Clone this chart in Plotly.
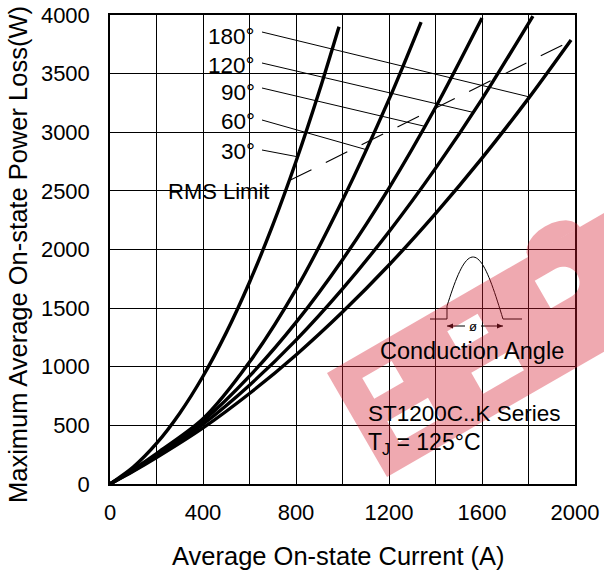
import math
import plotly.graph_objects as go

# ---------------- data ----------------
I_30 = [0, 100, 200, 300, 400, 500, 600, 700, 800, 900, 985]
P_30 = [0, 145, 346, 604, 919, 1291, 1721, 2207, 2750, 3349, 3900]

I_60 = [0, 100, 200, 400, 600, 800, 1000, 1200, 1338]
P_60 = [0, 125, 260, 556, 1040, 1660, 2420, 3280, 3940]

I_90 = [0, 100, 200, 400, 600, 800, 1000, 1200, 1400, 1600]
P_90 = [0, 118, 245, 537, 920, 1378, 1913, 2524, 3211, 3974]

I_120 = [0, 100, 200, 400, 600, 800, 1000, 1200, 1400, 1600, 1819]
P_120 = [0, 112, 235, 510, 843, 1227, 1664, 2152, 2692, 3283, 3991]

I_180 = [0, 100, 200, 400, 600, 800, 1000, 1200, 1400, 1600, 1800, 1983]
P_180 = [0, 108, 225, 478, 772, 1101, 1467, 1868, 2306, 2779, 3289, 3787]

I_rms = [774, 1978]
P_rms = [2590, 3775]

angle_labels = ["180°", "120°", "90°", "60°", "30°"]
# points on the curves where the label leaders end
leader_I = [1806, 1561, 1355, 1105, 809]
leader_P = [3300, 3170, 3050, 2850, 2790]

x_tick_vals = [0, 400, 800, 1200, 1600, 2000]
x_tick_text = ["0", "400", "800", "1200", "1600", "2000"]
y_tick_vals = [0, 500, 1000, 1500, 2000, 2500, 3000, 3500, 4000]
y_tick_text = ["0", "500", "1000", "1500", "2000", "2500", "3000", "3500", "4000"]

# ---------------- geometry helpers ----------------
W, H = 604, 576
ML, MR, MT, MB = 110, 29, 15, 92
PW, PH = W - ML - MR, H - MT - MB
FONT = "Liberation Sans, Arial, sans-serif"


def paper(px, py):
    return ((px - ML) / PW, (MT + PH - py) / PH)


def path_from_px(pts, close=True):
    s = ""
    for i, (x, y) in enumerate(pts):
        u, v = paper(x, y)
        s += ("M" if i == 0 else "L") + f"{u:.5f},{v:.5f} "
    if close:
        s += "Z"
    return s


fig = go.Figure()

curves = [(I_30, P_30), (I_60, P_60), (I_90, P_90), (I_120, P_120), (I_180, P_180)]
for xs, ys in curves:
    fig.add_trace(go.Scatter(x=xs, y=ys, mode="lines",
                             line=dict(color="black", width=3.4, shape="spline", smoothing=0.8),
                             hoverinfo="skip", showlegend=False))

fig.add_trace(go.Scatter(x=I_rms, y=P_rms, mode="lines",
                         line=dict(color="black", width=1.1, dash="24px,16px"),
                         hoverinfo="skip", showlegend=False))

shapes = []
# white label boxes (above grid, below traces)
for (x0, y0, x1, y1) in [(208, 15, 258, 166), (165, 176, 272, 207),
                         (427, 251, 524, 333), (372, 336, 574, 364),
                         (364, 398, 562, 427), (364, 427, 489, 458)]:
    a0, b0 = paper(x0, y1)
    a1, b1 = paper(x1, y0)
    shapes.append(dict(type="rect", xref="paper", yref="paper", x0=a0, y0=b0, x1=a1, y1=b1,
                       fillcolor="white", line=dict(width=0), layer="between"))

# leader lines from labels to curves
label_y_px = [37, 65, 92, 122, 151]
start_y_px = [32, 63, 88, 120, 150]
for k in range(5):
    sx, sy = paper(262, start_y_px[k])
    shapes.append(dict(type="line", xref="paper", yref="paper", x0=sx, y0=sy,
                       x1=(leader_I[k] / 2000), y1=(leader_P[k] / 4000),
                       line=dict(color="black", width=1), layer="above"))

# conduction-angle symbol
base_y = 319
foot0, foot1, amp = 443, 503, 62
cut_x = 447


def wave_y(x):
    return base_y - amp * math.sin(math.pi * (x - foot0) / (foot1 - foot0))


wpts = [(cut_x, base_y)]
n = 40
for i in range(n + 1):
    x = cut_x + (foot1 - cut_x) * i / n
    wpts.append((x, wave_y(x)))
shapes.append(dict(type="path", xref="paper", yref="paper", path=path_from_px(wpts, close=False),
                   line=dict(color="black", width=1), layer="above"))
for (xa, xb) in [(430, cut_x), (foot1, 522)]:
    a, b = paper(xa, base_y)
    c, d = paper(xb, base_y)
    shapes.append(dict(type="line", xref="paper", yref="paper", x0=a, y0=b, x1=c, y1=d,
                       line=dict(color="black", width=1), layer="above"))
arr_y = 326
for (xa, xb) in [(cut_x, 465), (481, foot1)]:
    a, b = paper(xa, arr_y)
    c, d = paper(xb, arr_y)
    shapes.append(dict(type="line", xref="paper", yref="paper", x0=a, y0=b, x1=c, y1=d,
                       line=dict(color="black", width=1), layer="above"))
shapes.append(dict(type="path", xref="paper", yref="paper",
                   path=path_from_px([(cut_x, arr_y), (cut_x + 6, arr_y - 2.5), (cut_x + 6, arr_y + 2.5)]),
                   fillcolor="black", line=dict(width=0), layer="above"))
shapes.append(dict(type="path", xref="paper", yref="paper",
                   path=path_from_px([(foot1, arr_y), (foot1 - 6, arr_y - 2.5), (foot1 - 6, arr_y + 2.5)]),
                   fillcolor="black", line=dict(width=0), layer="above"))

# watermark (rotated logo band with a few cut-outs)
AX, AY = 327, 373
ca, sa = math.cos(math.radians(30)), math.sin(math.radians(30))


def band(u, v):
    return (AX + ca * u + sa * v, AY - sa * u + ca * v)


def brect(u0, u1, v0, v1, rev=False):
    pts = [band(u0, v0), band(u1, v0), band(u1, v1), band(u0, v1)]
    if rev:
        pts = pts[::-1]
    return path_from_px(pts)


wm = brect(0, 420, 0, 120) + " "
wm += brect(28, 62, 22, 46, rev=True) + " "
wm += brect(28, 75, 72, 96, rev=True) + " "
wm += brect(125, 160, 24, 46, rev=True) + " "
wm += brect(125, 172, 72, 96, rev=True) + " "
hole = []
for i in range(21):
    t = -math.pi / 2 + math.pi * i / 20
    hole.append(band(250 + 16 * math.cos(t), 40 + 16 * math.sin(t)))
hole = [band(226, 24)] + hole + [band(226, 56)]
hole = hole[::-1]
wm += path_from_px(hole) + " "
bump = [band(220, 0)]
for i in range(13):
    t = math.pi * i / 12
    bump.append(band(262 - 30 * math.cos(t), -18 * math.sin(t)))
bump.append(band(292, 0))
wm += path_from_px(bump)
shapes.append(dict(type="path", xref="paper", yref="paper", path=wm,
                   fillcolor="rgba(214,30,48,0.38)", line=dict(width=0), layer="above"))

annotations = []
for k, lab in enumerate(angle_labels):
    ax, ay = paper(257, label_y_px[k])
    annotations.append(dict(x=ax, y=ay, xref="paper", yref="paper", text=lab, showarrow=False,
                            xanchor="right", yanchor="middle", font=dict(size=22.5, color="black", family=FONT)))
ax, ay = paper(271, 192)
annotations.append(dict(x=ax, y=ay, xref="paper", yref="paper", text="RMS Limit", showarrow=False,
                        xanchor="right", yanchor="middle", font=dict(size=22, color="black", family=FONT)))
ax, ay = paper(473, 326)
annotations.append(dict(x=ax, y=ay, xref="paper", yref="paper", text="ø", showarrow=False,
                        xanchor="center", yanchor="middle", font=dict(size=13, color="black", family=FONT)))
ax, ay = paper(472, 351)
annotations.append(dict(x=ax, y=ay, xref="paper", yref="paper", text="Conduction Angle", showarrow=False,
                        xanchor="center", yanchor="middle", font=dict(size=23.5, color="black", family=FONT)))
ax, ay = paper(366, 413)
annotations.append(dict(x=ax, y=ay, xref="paper", yref="paper", text="ST1200C..K Series", showarrow=False,
                        xanchor="left", yanchor="middle", font=dict(size=22.5, color="black", family=FONT)))
ax, ay = paper(366, 443)
annotations.append(dict(x=ax, y=ay, xref="paper", yref="paper", text="T<sub>J</sub> = 125°C", showarrow=False,
                        xanchor="left", yanchor="middle", font=dict(size=23, color="black", family=FONT)))
ax, ay = paper(338, 556)
annotations.append(dict(x=ax, y=ay, xref="paper", yref="paper", text="Average On-state Current (A)",
                        showarrow=False, xanchor="center", yanchor="middle",
                        font=dict(size=25.5, color="black", family=FONT)))
ax, ay = paper(18, 255)
annotations.append(dict(x=ax, y=ay, xref="paper", yref="paper", text="Maximum Average On-state Power Loss(W)",
                        showarrow=False, xanchor="center", yanchor="middle", textangle=-90,
                        font=dict(size=25.5, color="black", family=FONT)))

fig.update_layout(
    width=W, height=H,
    margin=dict(l=ML, r=MR, t=MT, b=MB, pad=0, autoexpand=False),
    paper_bgcolor="white", plot_bgcolor="white",
    font=dict(family=FONT, color="black", size=22),
    shapes=shapes, annotations=annotations, showlegend=False,
    xaxis=dict(range=[0, 2000], tickvals=x_tick_vals, ticktext=x_tick_text,
               showgrid=True, gridcolor="black", gridwidth=1,
               minor=dict(dtick=200, showgrid=True, gridcolor="black", gridwidth=1),
               showline=True, linecolor="black", linewidth=1.5, mirror=True,
               zeroline=False, ticks="", ticklabelstandoff=8, automargin=False,
               tickfont=dict(size=22, family=FONT, color="black"), fixedrange=True),
    yaxis=dict(range=[0, 4000], tickvals=y_tick_vals, ticktext=y_tick_text,
               showgrid=True, gridcolor="black", gridwidth=1,
               showline=True, linecolor="black", linewidth=1.5, mirror=True,
               zeroline=False, ticks="", ticklabelstandoff=14, automargin=False,
               tickfont=dict(size=22, family=FONT, color="black"), fixedrange=True),
)

fig.write_html("out.html", config={"displayModeBar": False})
